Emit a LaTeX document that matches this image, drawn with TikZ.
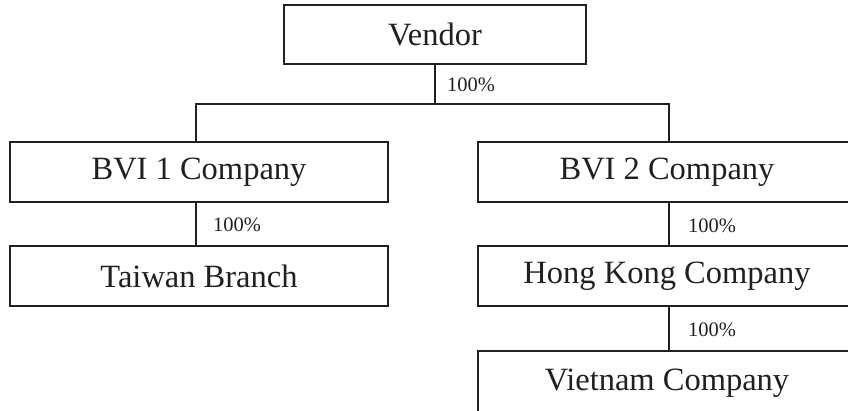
\documentclass[tikz,border=0pt]{standalone}
\usepackage{fontspec}
\setmainfont{Liberation Serif}
\definecolor{ink}{HTML}{231F20}
\begin{document}
\begin{tikzpicture}[x=1pt,y=-1pt,
  box/.style={draw=ink,line width=1.4pt,rectangle,inner sep=0pt,text=ink,font=\fontsize{32.5}{36}\selectfont},
  pct/.style={anchor=west,inner sep=0pt,text=ink,font=\fontsize{20.5}{24}\selectfont},
  link/.style={draw=ink,line width=1.4pt}]
\useasboundingbox (0,0) rectangle (848,410);
\clip (0,0) rectangle (848,410);
\node[box,minimum width=302pt,minimum height=59pt] (vendor) at (435,34.5) {Vendor};
\node[box,minimum width=378pt,minimum height=60pt] (bvi1) at (199,172) {BVI 1 Company};
\node[box,minimum width=378pt,minimum height=60pt] (taiwan) at (199,276) {Taiwan Branch};
\node[box,minimum width=378pt,minimum height=60pt] (bvi2) at (667,172) {BVI 2 Company};
\node[box,minimum width=378pt,minimum height=60pt] (hk) at (667,276) {Hong Kong Company};
\node[box,minimum width=378pt,minimum height=64pt] (vn) at (667,383) {Vietnam Company};
\coordinate (j) at (435,104);
\draw[link] (vendor.south) -- (j);
\draw[link] ([xshift=-3pt]bvi1.north) |- (j) -| ([xshift=2pt]bvi2.north);
\draw[link] ([xshift=-3pt]bvi1.south) -- ([xshift=-3pt]taiwan.north);
\draw[link] ([xshift=2pt]bvi2.south) -- ([xshift=2pt]hk.north);
\draw[link] ([xshift=2pt]hk.south) -- ([xshift=2pt]vn.north);
\node[pct] (p0) at (447,85) {100\%};
\node[pct] (p1) at (213,225) {100\%};
\node[pct] (p2) at (688,226) {100\%};
\node[pct] (p3) at (688,330) {100\%};
\end{tikzpicture}
\end{document}
